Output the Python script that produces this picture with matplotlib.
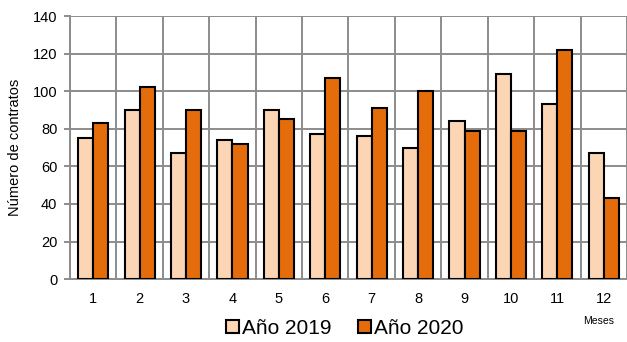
import numpy as np
import matplotlib
matplotlib.use('Agg')
import matplotlib.pyplot as plt

# == data ====================================================================
meses      = ['1', '2', '3', '4', '5', '6', '7', '8', '9', '10', '11', '12']
anio_2019  = [75, 90, 67, 74, 90, 77, 76, 70, 84, 109, 93, 67]
anio_2020  = [83, 102, 90, 72, 85, 107, 91, 100, 79, 79, 122, 43]
# =============================================================================

plt.rcParams['font.family'] = ['Liberation Sans', 'DejaVu Sans']

fig = plt.figure(figsize=(6.27, 3.42), dpi=100)
ax = fig.add_axes([0.1116, 0.184, 0.8884, 0.769])

x = np.arange(len(meses))
w = 0.325
ax.bar(x - w / 2, anio_2019, width=w, color='#FCD5B5', edgecolor='black',
       linewidth=1.5, label='Año 2019', zorder=3)
ax.bar(x + w / 2, anio_2020, width=w, color='#E46C0A', edgecolor='black',
       linewidth=1.5, label='Año 2020', zorder=3)

ax.set_xlim(-0.5, len(meses) - 0.5)
ax.set_ylim(0, 140)
ax.set_yticks(np.arange(0, 141, 20))
ax.set_xticks(x)
ax.set_xticklabels(meses)
ax.set_xticks(np.arange(-0.5, len(meses)), minor=True)

ax.grid(True, axis='y', which='major', color='#8c8c8c', linewidth=1.4, zorder=0)
ax.grid(True, axis='x', which='minor', color='#8c8c8c', linewidth=1.4, zorder=0)
ax.grid(False, axis='x', which='major')

for s in ['top', 'right']:
    ax.spines[s].set_visible(False)
for s in ['left', 'bottom']:
    ax.spines[s].set_color('#8c8c8c')
    ax.spines[s].set_linewidth(1.4)

ax.tick_params(axis='y', length=4, width=1.4, color='#8c8c8c', labelsize=10.5, pad=5)
ax.tick_params(axis='x', which='major', length=0, labelsize=10.5, pad=9)
ax.tick_params(axis='x', which='minor', length=0)

ax.set_ylabel('Número de contratos', fontsize=10.5, labelpad=8)
fig.text(0.955, 0.062, 'Meses', fontsize=7.5, ha='center', va='center')

fig.legend(loc='center', bbox_to_anchor=(0.550, 0.04), ncol=2, frameon=False,
           fontsize=15, handlelength=0.6, handleheight=0.6,
           handletextpad=0.15, columnspacing=1.3)

plt.savefig('out.png', dpi=100)
